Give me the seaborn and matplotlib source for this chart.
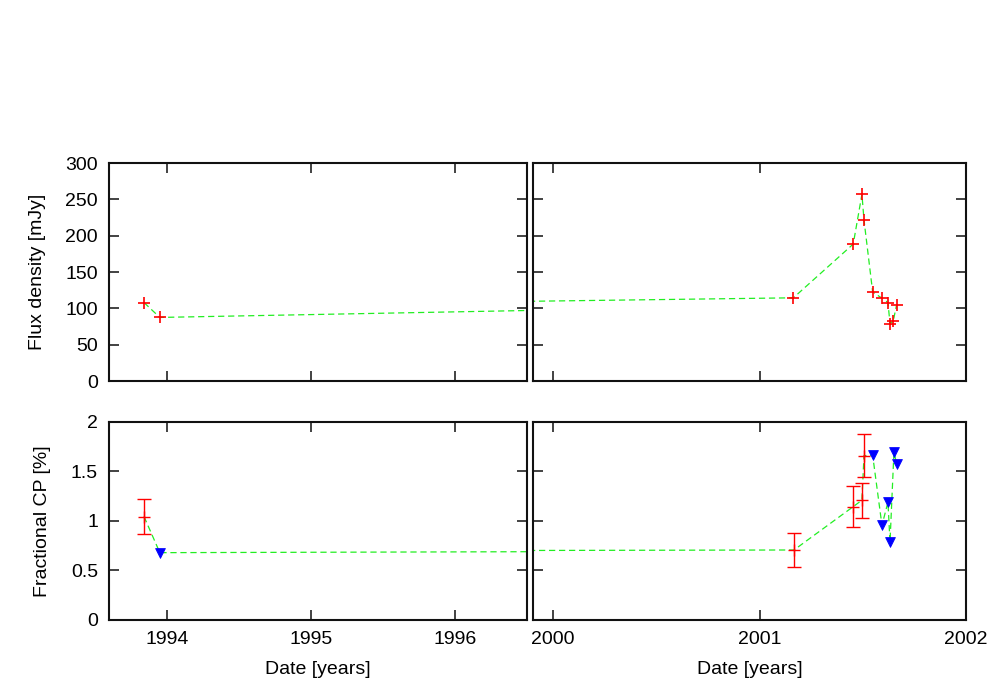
import matplotlib
matplotlib.use("Agg")
import matplotlib.pyplot as plt
import seaborn as sns
import pandas as pd

# flux density measurements (decimal year, mJy)
flux_year = [1993.84, 1993.95, 2001.164, 2001.454, 2001.496, 2001.506,
             2001.548, 2001.593, 2001.622, 2001.632, 2001.648, 2001.664]
flux_mjy = [108, 87.5, 114.5, 188.5, 257, 221.5, 122.5, 114, 108, 79, 83, 105]

# fractional circular polarisation
cp_year = [1993.84, 1993.95, 2001.167, 2001.454, 2001.496, 2001.506,
           2001.548, 2001.593, 2001.622, 2001.632, 2001.651, 2001.664]
cp_val = [1.045, 0.68, 0.707, 1.145, 1.21, 1.66,
          1.663, 0.956, 1.19, 0.788, 1.697, 1.576]
cp_err = [0.177, 0, 0.175, 0.21, 0.175, 0.215, 0, 0, 0, 0, 0, 0]
cp_limit = [False, True, False, False, False, False,
            True, True, True, True, True, True]

xlim_left = (1993.597, 1996.5)
xlim_right = (1999.903, 2002.0)

sns.set_style("ticks")
plt.rcParams['font.family'] = ['Liberation Sans', 'DejaVu Sans']
plt.rcParams['font.size'] = 14
plt.rcParams['text.color'] = 'black'
plt.rcParams['axes.labelcolor'] = 'black'
plt.rcParams['xtick.color'] = 'black'
plt.rcParams['ytick.color'] = 'black'

df_flux = pd.DataFrame({'year': flux_year, 'flux': flux_mjy})
df_cp = pd.DataFrame({'year': cp_year, 'cp': cp_val, 'err': cp_err, 'limit': cp_limit})
det = df_cp[~df_cp['limit']]
lim = df_cp[df_cp['limit']]

fig = plt.figure(figsize=(10, 7), dpi=100)
ax_tl = fig.add_axes([0.109, 0.4557, 0.418, 0.3114])
ax_tr = fig.add_axes([0.533, 0.4557, 0.433, 0.3114])
ax_bl = fig.add_axes([0.109, 0.1143, 0.418, 0.2829])
ax_br = fig.add_axes([0.533, 0.1143, 0.433, 0.2829])

line_kw = dict(color='#22ee22', linewidth=0.9, linestyle=(0, (5, 3)), sort=False, zorder=2)

for ax in (ax_tl, ax_tr):
    sns.lineplot(data=df_flux, x='year', y='flux', ax=ax, **line_kw)
    sns.scatterplot(data=df_flux, x='year', y='flux', ax=ax, marker='+', s=65,
                    color='red', linewidth=1.2, zorder=3)
    ax.set_ylim(0, 300)
    ax.set_yticks([0, 50, 100, 150, 200, 250, 300])

for ax in (ax_bl, ax_br):
    sns.lineplot(data=df_cp, x='year', y='cp', ax=ax, **line_kw)
    ax.errorbar(det['year'], det['cp'], yerr=det['err'], fmt='none', ecolor='red',
                elinewidth=1.0, capsize=5, capthick=1.0, zorder=3)
    sns.scatterplot(data=det, x='year', y='cp', ax=ax, marker='+', s=65,
                    color='red', linewidth=1.0, zorder=3)
    sns.scatterplot(data=lim, x='year', y='cp', ax=ax, marker='v', s=50,
                    color='blue', edgecolor='blue', zorder=4)
    ax.set_ylim(0, 2)
    ax.set_yticks([0, 0.5, 1, 1.5, 2])
    ax.set_yticklabels(['0', '0.5', '1', '1.5', '2'])

for ax in (ax_tl, ax_bl):
    ax.set_xlim(*xlim_left)
    ax.set_xticks([1994, 1995, 1996])
for ax in (ax_tr, ax_br):
    ax.set_xlim(*xlim_right)
    ax.set_xticks([2000, 2001, 2002])

for ax in (ax_tl, ax_tr, ax_bl, ax_br):
    ax.tick_params(direction='in', top=True, right=True, length=7, width=1.2,
                   labelsize=14, pad=8, color='#222222', labelcolor='black')
    for sp in ax.spines.values():
        sp.set_visible(True)
        sp.set_linewidth(1.5)
        sp.set_color('#111111')
    ax.set_xlabel('')
    ax.set_ylabel('')

for ax in (ax_tl, ax_tr):
    ax.tick_params(labelbottom=False)
for ax in (ax_tr, ax_br):
    ax.tick_params(labelleft=False)

ax_tl.set_ylabel('Flux density [mJy]', fontsize=14, labelpad=14)
ax_bl.set_ylabel('Fractional CP [%]', fontsize=14, labelpad=14)
ax_bl.set_xlabel('Date [years]', fontsize=14, labelpad=9)
ax_br.set_xlabel('Date [years]', fontsize=14, labelpad=9)

fig.savefig('out.png', dpi=100)
